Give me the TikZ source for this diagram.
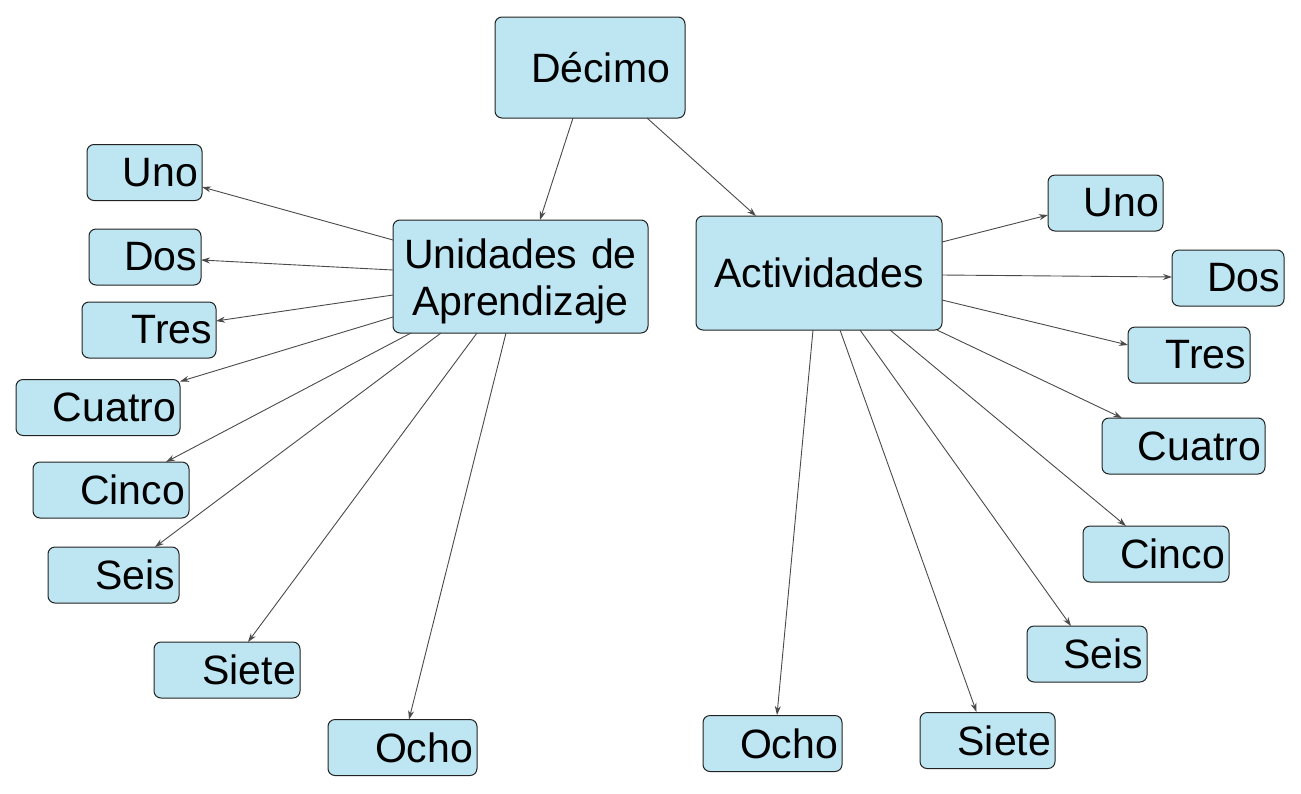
\documentclass[tikz,border=0pt]{standalone}
\usepackage{fontspec}
\setmainfont{Liberation Sans}
\usetikzlibrary{arrows.meta}
\definecolor{boxblue}{HTML}{BEE5F2}
\definecolor{edgegray}{HTML}{222222}
\definecolor{linegray}{HTML}{4A4A4A}
\tikzset{
  box/.style={draw=edgegray, fill=boxblue, rounded corners=7pt, line width=1pt,
    inner ysep=0pt, font=\fontsize{41}{47}\selectfont},
  leaf/.style={box, minimum height=56pt, inner xsep=4pt, align=right},
  conn/.style={draw=linegray, line width=0.9pt, -{Stealth[length=9pt,width=6pt]}},
}
\begin{document}
\begin{tikzpicture}[x=1pt, y=-1pt]
\useasboundingbox (0,0) rectangle (1301,793);
% main nodes
\node[box, minimum width=190pt, minimum height=101pt, inner xsep=15pt, text width=160pt, align=right] (dec) at (590,67.5) {Décimo};
\node[box, minimum width=255pt, minimum height=113pt, inner xsep=4pt, text width=247pt, align=center, text depth=46pt] (uni) at (520.5,276.5) {Unidades de\\Aprendizaje};
\node[box, minimum width=246pt, minimum height=114pt, inner xsep=4pt, text width=238pt, align=center] (act) at (819,273) {Actividades};
% left leaves
\node[leaf, text width=107pt] (luno) at (144.5,172.5) {Uno};
\node[leaf, text width=104pt] (ldos) at (145,257) {Dos};
\node[leaf, text width=126pt] (ltres) at (149,330) {Tres};
\node[leaf, text width=156pt] (lcuatro) at (98,407.5) {Cuatro};
\node[leaf, text width=148pt] (lcinco) at (111,490) {Cinco};
\node[leaf, text width=123pt] (lseis) at (113.5,575) {Seis};
\node[leaf, text width=138pt] (lsiete) at (227,670) {Siete};
\node[leaf, text width=141pt] (locho) at (402.5,747.5) {Ocho};
% right leaves
\node[leaf, text width=107pt] (runo) at (1105.5,203) {Uno};
\node[leaf, text width=104pt] (rdos) at (1228,278) {Dos};
\node[leaf, text width=114pt] (rtres) at (1189,355) {Tres};
\node[leaf, text width=155pt] (rcuatro) at (1183.5,446) {Cuatro};
\node[leaf, text width=138pt] (rcinco) at (1156,554) {Cinco};
\node[leaf, text width=112pt] (rseis) at (1087,654) {Seis};
\node[leaf, text width=127pt] (rsiete) at (987.5,740.5) {Siete};
\node[leaf, text width=131pt] (rocho) at (772.5,743.5) {Ocho};
% connectors
\draw[conn] ([shift={(-17,50.5)}]dec.center) -- ([shift={(19.5,-56.5)}]uni.center);
\draw[conn] ([shift={(57,50.5)}]dec.center) -- ([shift={(-63,-57)}]act.center);
\draw[conn] ([shift={(-127.5,-36.5)}]uni.center) -- ([shift={(57.5,14.5)}]luno.center);
\draw[conn] ([shift={(-127.5,-6.5)}]uni.center) -- ([shift={(56,3)}]ldos.center);
\draw[conn] ([shift={(-127.5,18.5)}]uni.center) -- ([shift={(67,-9)}]ltres.center);
\draw[conn] ([shift={(-127.5,40.5)}]uni.center) -- ([shift={(82,-26)}]lcuatro.center);
\draw[conn] ([shift={(-109.5,56.5)}]uni.center) -- ([shift={(55,-28)}]lcinco.center);
\draw[conn] ([shift={(-79.5,56.5)}]uni.center) -- ([shift={(41.5,-28)}]lseis.center);
\draw[conn] ([shift={(-43.5,56.5)}]uni.center) -- ([shift={(21,-28)}]lsiete.center);
\draw[conn] ([shift={(-14.5,56.5)}]uni.center) -- ([shift={(6.5,-28)}]locho.center);
\draw[conn] ([shift={(123,-31)}]act.center) -- ([shift={(-57.5,12)}]runo.center);
\draw[conn] ([shift={(123,2)}]act.center) -- ([shift={(-56,-1)}]rdos.center);
\draw[conn] ([shift={(123,27)}]act.center) -- ([shift={(-61,-10)}]rtres.center);
\draw[conn] ([shift={(118,57)}]act.center) -- ([shift={(-61.5,-28)}]rcuatro.center);
\draw[conn] ([shift={(71,57)}]act.center) -- ([shift={(-30,-28)}]rcinco.center);
\draw[conn] ([shift={(41,57)}]act.center) -- ([shift={(-16,-28)}]rseis.center);
\draw[conn] ([shift={(21,57)}]act.center) -- ([shift={(-11,-28.5)}]rsiete.center);
\draw[conn] ([shift={(-6,57)}]act.center) -- ([shift={(4.5,-28.5)}]rocho.center);
\end{tikzpicture}
\end{document}
